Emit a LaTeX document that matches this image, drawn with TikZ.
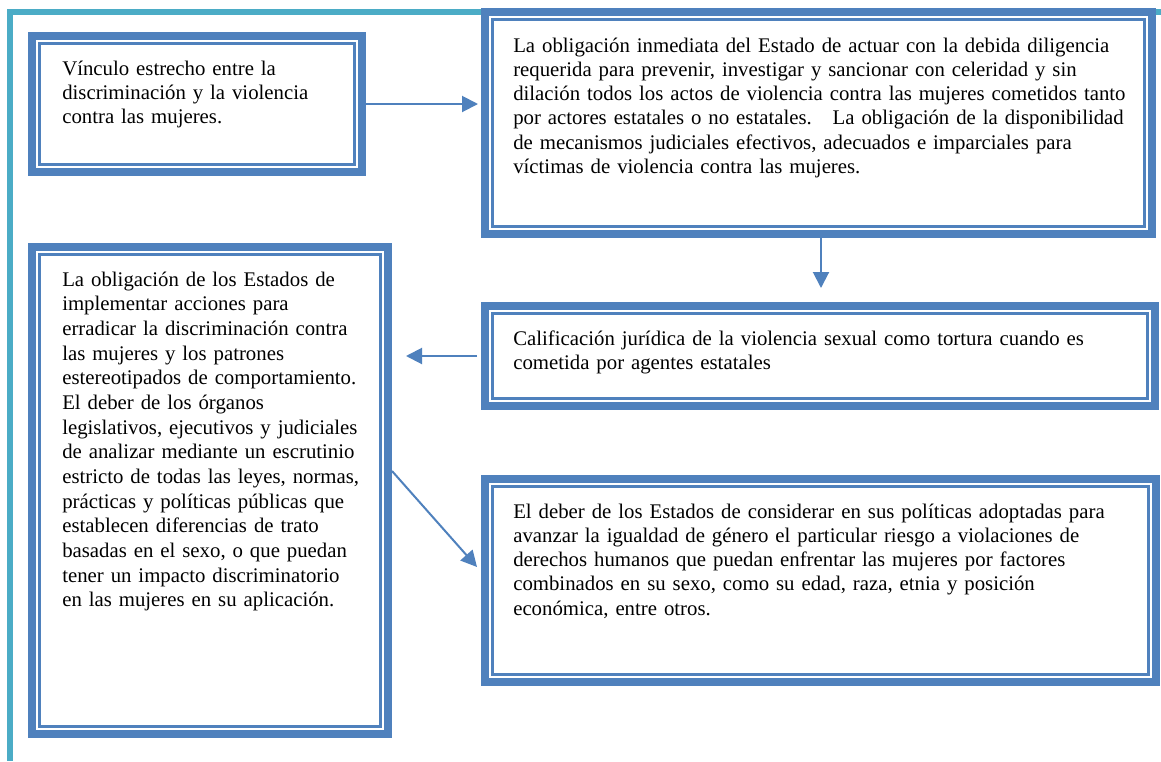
\documentclass[tikz,border=0pt]{standalone}
\usepackage{fontspec}
\setmainfont{Liberation Serif}
\usetikzlibrary{arrows.meta,calc,fit}
\definecolor{bl}{HTML}{4F81BD}
\definecolor{tealframe}{HTML}{4BACC6}
\newcommand\dblbox[1]{%
  \fill[bl] (#1.north west) rectangle (#1.south east);
  \fill[white] ([shift={(8,8)}]#1.north west) rectangle ([shift={(-8,-8)}]#1.south east);
  \draw[bl,line width=1.9pt] ([shift={(11.3,11.3)}]#1.north west) rectangle ([shift={(-11.3,-11.3)}]#1.south east);
}
\tikzset{
  boxn/.style={inner sep=0pt, outer sep=0pt},
  txt/.style={anchor=base west, inner sep=0pt, align=left, text width=480pt,
    font=\fontsize{15.6pt}{18.2pt}\selectfont},
  arr/.style={bl, line width=1.5pt, -{Triangle[length=12pt,width=12pt]}}
}
\begin{document}
\begin{tikzpicture}[x=0.75pt,y=-0.75pt]
\useasboundingbox (0,0) rectangle (1161,761);
\fill[white] (0,0) rectangle (1161,761);
% teal frame
\fill[tealframe] (7,9) rectangle (1161,15);
\fill[tealframe] (7,9) rectangle (13,761);
% boxes
\node[boxn, fit={(28,32) (366,176)}] (b1) {};
\node[boxn, fit={(481,8) (1156,238)}] (b2) {};
\node[boxn, fit={(481,302) (1159,410)}] (b3) {};
\node[boxn, fit={(481,475) (1160,686)}] (b4) {};
\node[boxn, fit={(28,243) (392,738)}] (b5) {};
\dblbox{b1}
\dblbox{b2}
\dblbox{b3}
\dblbox{b4}
\dblbox{b5}
% texts
\node[txt] (t1) at (62,75) {Vínculo estrecho entre la\\discriminación y la violencia\\contra las mujeres.};
\node[txt] (t2) at (513,52) {La obligación inmediata del Estado de actuar con la debida diligencia\\
requerida para prevenir, investigar y sancionar con celeridad y sin\\
dilación todos los actos de violencia contra las mujeres cometidos tanto\\
por actores estatales o no estatales.\ \ \ La obligación de la disponibilidad\\
de mecanismos judiciales efectivos, adecuados e imparciales para\\
víctimas de violencia contra las mujeres.};
\node[txt] (t3) at (513,345) {Calificación jurídica de la violencia sexual como tortura cuando es\\cometida por agentes estatales};
\node[txt] (t4) at (513,518) {El deber de los Estados de considerar en sus políticas adoptadas para\\
avanzar la igualdad de género el particular riesgo a violaciones de\\
derechos humanos que puedan enfrentar las mujeres por factores\\
combinados en su sexo, como su edad, raza, etnia y posición\\
económica, entre otros.};
\node[txt, font=\fontsize{15.6pt}{18.5pt}\selectfont] (t5) at (62,286) {La obligación de los Estados de\\implementar acciones para\\erradicar la discriminación contra\\las mujeres y los patrones\\estereotipados de comportamiento.\\El deber de los órganos\\legislativos, ejecutivos y judiciales\\de analizar mediante un escrutinio\\estricto de todas las leyes, normas,\\prácticas y políticas públicas que\\establecen diferencias de trato\\basadas en el sexo, o que puedan\\tener un impacto discriminatorio\\en las mujeres en su aplicación.};
% connectors
\draw[arr, shorten >=2.25pt] (b1.east) -- (b1.east -| b2.west);
\coordinate (a2s) at (821,238);
\draw[arr, shorten >=10.5pt] (a2s) -- (a2s |- b3.north);
\draw[arr, shorten <=3pt, shorten >=10.5pt] (b3.west) -- (b3.west -| b5.east);
\coordinate (a4s) at (392,471);
\coordinate (a4e) at (477,567);
\draw[arr] (a4s) -- (a4e);
\end{tikzpicture}
\end{document}
